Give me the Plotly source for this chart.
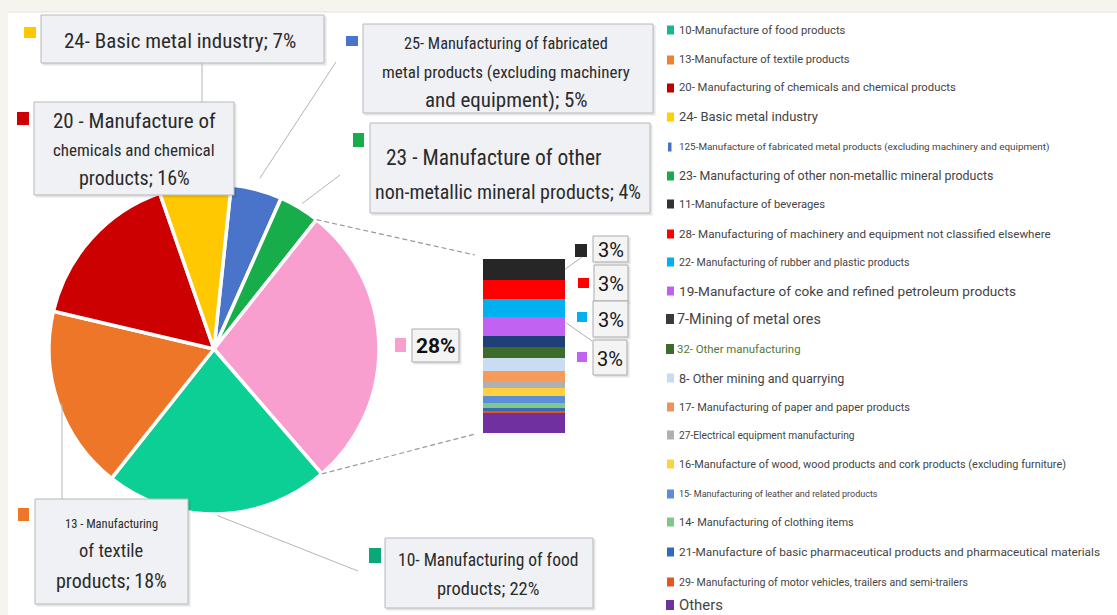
import math
import plotly.graph_objects as go

W, H = 1117, 615

# ---------------- data ----------------
pie_labels = ["25- Manufacturing of fabricated metal products (excluding machinery and equipment)",
              "23 - Manufacture of other non-metallic mineral products",
              "Other sectors",
              "10- Manufacturing of food products",
              "13 - Manufacturing of textile products",
              "20 - Manufacture of chemicals and chemical products",
              "24- Basic metal industry"]
pie_values = [5, 4, 28, 22, 18, 16, 7]
pie_colors = ["#4a74c9", "#17ad4b", "#f99fcf", "#0bcf94", "#ee7628", "#cc0000", "#ffc800"]

bar_labels = ["11-Manufacture of beverages",
              "28- Manufacturing of machinery and equipment not classified elsewhere",
              "22- Manufacturing of rubber and plastic products",
              "19-Manufacture of coke and refined petroleum products",
              "7-Mining of metal ores",
              "32- Other manufacturing",
              "8- Other mining and quarrying",
              "17- Manufacturing of paper and paper products",
              "27-Electrical equipment manufacturing",
              "16-Manufacture of wood, wood products and cork products (excluding furniture)",
              "15- Manufacturing of leather and related products",
              "14- Manufacturing of clothing items",
              "21-Manufacture of basic pharmaceutical products and pharmaceutical materials",
              "29- Manufacturing of motor vehicles, trailers and semi-trailers",
              "Others"]
bar_values = [3.3, 3.2, 2.9, 3.0, 1.8, 1.8, 2.1, 1.6, 1.1, 1.3, 1.0, 0.8, 0.6, 0.2, 3.3]
bar_colors = ["#262626", "#ff0000", "#00b0f0", "#c262f2", "#1f3f78", "#3d6b2a", "#c9dcf1",
              "#f79a5a", "#b0b0b0", "#ffd040", "#5b8ed6", "#7dc88a", "#3a6ab0", "#e05a20", "#7030a0"]

legend_labels = ["10-Manufacture of food products",
                 "13-Manufacture of textile products",
                 "20- Manufacturing of chemicals and chemical products",
                 "24- Basic metal industry",
                 "125-Manufacture of fabricated metal products (excluding machinery and equipment)",
                 "23- Manufacturing of other non-metallic mineral products"] + bar_labels
legend_colors = ["#14b890", "#f08030", "#c00000", "#ffd000", "#4472c4", "#1aaa4a",
                 "#333333", "#ff0000", "#00b0f0", "#c060f0", "#3a3a3a", "#3d6b2a", "#c8dcf0",
                 "#f0905a", "#b0b0b0", "#ffd040", "#5b8ed6", "#7dc88a", "#2f6ac0", "#e05a20", "#7030a0"]

pie_box_texts = {
    "24": ["24- Basic metal industry; 7%"],
    "20": ["20 - Manufacture of", "chemicals and chemical", "products; 16%"],
    "25": ["25- Manufacturing of fabricated", "metal products (excluding machinery", "and equipment); 5%"],
    "23": ["23 - Manufacture of other", "non-metallic mineral products; 4%"],
    "13": ["13 - Manufacturing", "of textile", "products; 18%"],
    "10": ["10- Manufacturing of food", "products; 22%"],
}
bar_box_texts = ["3%", "3%", "3%", "3%"]
pink_text = "28%"

# ---------------- helpers ----------------
def X(px):
    return px / W

def Y(py):
    return 1 - py / H

shapes = []
annotations = []
COND = "Roboto Condensed, Liberation Sans Narrow, Roboto"

def rect(x0, y0, x1, y1, fill, line=None, lw=0, layer="above"):
    shapes.append(dict(type="rect", xref="paper", yref="paper", x0=X(x0), x1=X(x1), y0=Y(y1), y1=Y(y0),
                       fillcolor=fill, line=dict(color=line or "rgba(0,0,0,0)", width=lw), layer=layer))

def seg(x0, y0, x1, y1, color="#b5b5b5", width=1, dash="solid"):
    shapes.append(dict(type="line", xref="paper", yref="paper", x0=X(x0), x1=X(x1), y0=Y(y0), y1=Y(y1),
                       line=dict(color=color, width=width, dash=dash)))

def box(x0, y0, x1, y1, fill="#f0f1f5", line="#b8b8b8"):
    rect(x0 + 1.5, y0 + 1.5, x1 + 2.5, y1 + 2.5, "rgba(0,0,0,0.10)")
    rect(x0, y0, x1, y1, fill, line, 1)

def text(cx, cy, s, size, color="#2b2b2b", family=COND, anchor="center", bold=False):
    if bold:
        s = "<b>" + s + "</b>"
    annotations.append(dict(xref="paper", yref="paper", x=X(cx), y=Y(cy), text=s, showarrow=False,
                            xanchor=anchor, yanchor="middle", font=dict(size=size, color=color, family=family)))

# background panel
rect(8, 12, W, H, "#ffffff", layer="below")
seg(8, 12, W, 12, color="#e4e3dd", width=1)

# ---------------- pie geometry ----------------
pcx, pcy, pr = 214, 349, 165
rotation = 6
total = sum(pie_values)
cum = [0]
for v in pie_values:
    cum.append(cum[-1] + v)

def ang(c):
    return math.radians(rotation + 360 * c / total)

def pie_pt(a, r):
    return pcx + r * math.sin(a), pcy - r * math.cos(a)

def mid_pt(i, r):
    return pie_pt(ang((cum[i] + cum[i + 1]) / 2), r)

pie = go.Pie(values=pie_values, labels=pie_labels, sort=False, direction="clockwise", rotation=rotation,
             marker=dict(colors=pie_colors, line=dict(color="#ffffff", width=3.5)),
             textinfo="none", hoverinfo="label+percent", showlegend=False,
             domain=dict(x=[X(pcx - pr), X(pcx + pr)], y=[Y(pcy + pr), Y(pcy - pr)]))

# ---------------- bar of pie ----------------
bx0, bx1, by0, by1 = 483, 565, 259, 433
bar_total = sum(bar_values)
rev_vals = bar_values[::-1]
rev_cols = bar_colors[::-1]
rev_labels = bar_labels[::-1]
bases = []
acc = 0
for v in rev_vals:
    bases.append(acc)
    acc += v
bar = go.Bar(x=[0] * len(rev_vals), y=rev_vals, base=bases, width=1, marker=dict(color=rev_cols, line=dict(width=0)),
             hovertext=rev_labels, hoverinfo="text", showlegend=False, xaxis="x", yaxis="y")

def bar_py(v):
    return by1 - (by1 - by0) * v / bar_total

# connectors from the aggregated slice to the bar
pink = 2
tA = pie_pt(ang(cum[pink]), pr)
tB = pie_pt(ang(cum[pink + 1]), pr)
seg(tA[0], tA[1], bx0 - 8, by0 - 4, color="#9a9a9a", width=1.2, dash="5px,3px")
seg(tB[0], tB[1], bx0 - 8, by1 + 1, color="#9a9a9a", width=1.2, dash="5px,3px")

# ---------------- pie labels ----------------
# 24 basic metal
box(41, 15, 324, 63)
rect(24, 27, 36, 38, "#ffc800")
text(180, 41, pie_box_texts["24"][0], 21)
seg(202, 63, 202, 102)
# 20 chemicals
box(34, 102, 234, 195)
rect(17, 112, 29, 125, "#cc0000")
for t, yy, sz in zip(pie_box_texts["20"], [121, 150, 178], [21, 17, 20]):
    text(134, yy, t, sz)
# 25 fabricated
box(363, 24, 653, 113)
rect(346, 36, 358, 46, "#4a74c9")
for t, yy, sz in zip(pie_box_texts["25"], [43, 72, 100], [16.3, 17, 21]):
    text(506, yy, t, sz)
p = mid_pt(0, pr * 1.07)
seg(336, 62, p[0], p[1])
# 23 other non-metallic
box(370, 123, 650, 213)
rect(353, 133, 364, 147, "#17ad4b")
for t, yy, sz, cx in zip(pie_box_texts["23"], [157, 192], [21.5, 20], [494, 508]):
    text(cx, yy, t, sz)
p = mid_pt(1, pr * 1.03)
seg(340, 175, p[0], p[1])
# 13 textile
p = mid_pt(4, pr * 1.0)
seg(62, p[1], 62, 499)
box(35, 499, 188, 604)
rect(18, 508, 29, 521, "#ee7628")
for t, yy, sz in zip(pie_box_texts["13"], [523, 551, 581], [12.5, 18.5, 20]):
    text(111, yy, t, sz)
# 10 food
p = mid_pt(3, pr * 1.01)
seg(p[0], p[1], 358, 571)
box(385, 538, 593, 608)
rect(369, 548, 381, 563, "#0aa878")
for t, yy, sz in zip(pie_box_texts["10"], [560, 589], [17.5, 18.5]):
    text(488, yy, t, sz)

# pink aggregate label
rect(395, 338, 406, 352, "#f99fcf")
box(412, 329, 459, 362, fill="#f4f4f4", line="#aaaaaa")
text(436, 346, pink_text, 21, color="#111111", family="Roboto", bold=True)

# bar labels (top four segments)
lab_boxes = [(593, 236, 628, 262), (594, 265, 628, 301), (593, 301, 628, 337), (593, 340, 627, 375)]
lab_sq = [(575, 244, 587, 257), (578, 278, 589, 288), (577, 312, 587, 322), (577, 352, 587, 362)]
for i in range(4):
    bx = lab_boxes[i]
    sq = lab_sq[i]
    rect(*sq, bar_colors[i])
    box(*bx, fill="#f4f4f4", line="#aaaaaa")
    text((bx[0] + bx[2]) / 2, (bx[1] + bx[3]) / 2 + 1, bar_box_texts[i], 20, color="#151515", family="Roboto")
mid0 = bar_py(bar_total - bar_values[0] / 2)
seg(bx1, mid0, 582, 257, color="#b0b0b0")
c3 = bar_total - sum(bar_values[:3]) - bar_values[3] / 2
seg(bx1 + 1, bar_py(c3) - 4, 592, 341, color="#b0b0b0")

# ---------------- legend (drawn as text) ----------------
leg_y = [30, 60, 88, 117, 147, 176, 204, 234, 262, 291, 319, 349, 378, 407, 435, 464, 494, 522, 552, 582, 605]
leg_size = [10.6, 10.4, 10.6, 12.2, 9.3, 11.6, 10.5, 10.9, 9.9, 12.8, 13.5, 10.7, 11.8, 10.3, 9.6, 10.2, 8.4, 10.3, 11.1, 9.9, 14.0]
for i, (lab, col, yy, sz) in enumerate(zip(legend_labels, legend_colors, leg_y, leg_size)):
    if lab.startswith("125"):
        rect(668, yy - 4.5, 671.5, yy + 4.5, col)
    elif lab.startswith("7-") or lab.startswith("32") or lab == "Others":
        rect(666, yy - 5, 674, yy + 5, col)
    else:
        rect(667, yy - 4.5, 674, yy + 4.5, col)
    tcol = "#4f7a35" if lab.startswith("32") else "#444444"
    x0 = 675 if (lab.startswith("7-") or lab.startswith("32")) else 677
    text(x0, yy, lab, round(sz * 1.066, 1), color=tcol, family="Roboto", anchor="left")

fig = go.Figure([pie, bar])
fig.update_layout(
    width=W, height=H, margin=dict(l=0, r=0, t=0, b=0),
    paper_bgcolor="#f5f4ef", plot_bgcolor="rgba(0,0,0,0)",
    xaxis=dict(domain=[X(bx0), X(bx1)], range=[-0.5, 0.5], visible=False, fixedrange=True),
    yaxis=dict(domain=[Y(by1), Y(by0)], range=[0, bar_total], visible=False, fixedrange=True),
    barmode="overlay", bargap=0,
    shapes=shapes, annotations=annotations,
    font=dict(family="Roboto"),
)
fig.write_html("out.html", config={"displayModeBar": False},
               post_script="document.body.style.margin='0';document.body.style.background='#f5f4ef';")
